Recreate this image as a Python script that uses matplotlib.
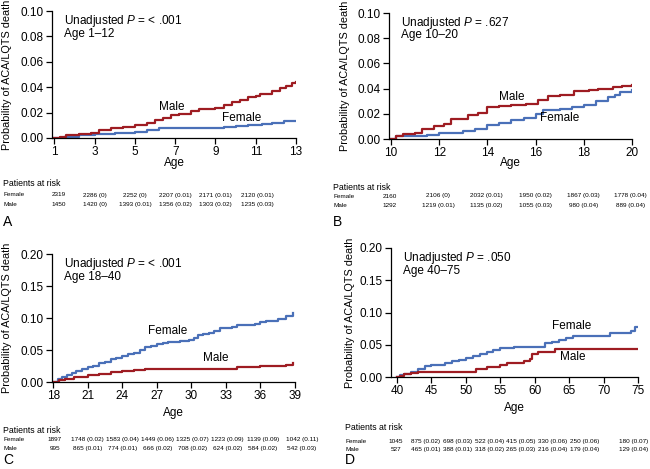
import matplotlib
matplotlib.use('Agg')
import matplotlib.pyplot as plt
import matplotlib.transforms as mtransforms
from matplotlib import font_manager

plt.rcParams['font.family'] = ['Liberation Sans', 'DejaVu Sans']
plt.rcParams['mathtext.fontset'] = 'custom'
plt.rcParams['mathtext.rm'] = 'Liberation Sans'
plt.rcParams['mathtext.it'] = 'Liberation Sans:italic'

RED = '#9e1c22'
BLUE = '#4a70b8'

# Panel A: age 1-12
a_male_x = [1, 1.3, 1.6, 2.2, 2.8, 3.2, 3.8, 4.4, 5.0, 5.6, 6.0, 6.4, 6.8, 7.2, 7.8, 8.2, 9.0, 9.4, 9.8, 10.2, 10.6, 11.0, 11.2, 11.8, 12.2, 12.5, 12.8, 13.0]
a_male_y = [0, 0.001, 0.002, 0.003, 0.004, 0.006, 0.008, 0.009, 0.010, 0.012, 0.014, 0.016, 0.018, 0.019, 0.021, 0.023, 0.024, 0.026, 0.028, 0.030, 0.032, 0.033, 0.035, 0.037, 0.039, 0.041, 0.043, 0.044]
a_female_x = [1, 1.5, 2.2, 3.0, 4.0, 5.0, 5.6, 6.2, 9.0, 9.4, 10.0, 10.6, 11.3, 11.8, 12.4, 13.0]
a_female_y = [0, 0.001, 0.002, 0.003, 0.004, 0.005, 0.006, 0.0075, 0.008, 0.009, 0.0095, 0.010, 0.011, 0.012, 0.013, 0.0135]

# Panel B: age 10-20
b_male_x = [10, 10.2, 10.5, 11.0, 11.3, 11.8, 12.2, 12.5, 13.0, 13.2, 13.6, 14.0, 14.5, 15.0, 15.6, 16.1, 16.5, 17.0, 17.6, 18.2, 18.6, 19.2, 19.6, 20.0]
b_male_y = [0, 0.002, 0.004, 0.005, 0.008, 0.010, 0.012, 0.016, 0.016, 0.019, 0.021, 0.025, 0.026, 0.027, 0.028, 0.031, 0.034, 0.035, 0.038, 0.039, 0.040, 0.041, 0.042, 0.043]
b_female_x = [10, 10.2, 11.0, 11.5, 12.0, 13.0, 13.5, 14.0, 14.5, 15.0, 15.5, 16.0, 16.3, 17.0, 17.5, 18.0, 18.5, 19.0, 19.3, 19.5, 20.0]
b_female_y = [0, 0.002, 0.002, 0.003, 0.005, 0.006, 0.008, 0.011, 0.013, 0.015, 0.017, 0.020, 0.023, 0.024, 0.025, 0.027, 0.030, 0.033, 0.035, 0.037, 0.039]

# Panel C: age 18-40
c_female_x = [18, 18.4, 18.8, 19.2, 19.6, 20.0, 20.5, 21.0, 21.5, 22.0, 22.5, 23.0, 23.5, 24.0, 24.5, 25.0, 25.5, 26.0, 26.5, 27.0, 27.5, 28.0, 29.0, 29.8, 30.2, 30.6, 31.0, 31.5, 32.0, 32.5, 33.5, 34.0, 35.5, 36.0, 36.5, 37.5, 38.2, 38.8]
c_female_y = [0, 0.004, 0.008, 0.011, 0.014, 0.017, 0.020, 0.023, 0.025, 0.029, 0.032, 0.036, 0.038, 0.041, 0.043, 0.046, 0.050, 0.054, 0.057, 0.059, 0.061, 0.063, 0.064, 0.066, 0.069, 0.073, 0.075, 0.077, 0.080, 0.084, 0.086, 0.089, 0.091, 0.093, 0.095, 0.099, 0.103, 0.108]
c_male_x = [18, 18.5, 19.0, 19.8, 21.0, 22.0, 23.0, 24.0, 25.0, 26.0, 33.5, 34.0, 36.0, 38.2, 38.8]
c_male_y = [0, 0.003, 0.005, 0.008, 0.011, 0.013, 0.015, 0.017, 0.019, 0.021, 0.021, 0.024, 0.025, 0.027, 0.029]

# Panel D: age 40-75
d_female_x = [40, 40.5, 41.0, 42.0, 43.0, 44.0, 45.0, 47.0, 48.0, 49.0, 50.0, 51.0, 52.0, 53.0, 54.0, 55.0, 57.0, 61.0, 61.5, 62.5, 63.5, 64.5, 65.5, 71.0, 74.0, 74.5, 75.0]
d_female_y = [0, 0.003, 0.005, 0.008, 0.012, 0.017, 0.019, 0.021, 0.025, 0.027, 0.030, 0.033, 0.035, 0.038, 0.042, 0.045, 0.046, 0.047, 0.052, 0.054, 0.057, 0.060, 0.063, 0.068, 0.072, 0.077, 0.077]
d_male_x = [40, 40.5, 41.0, 42.0, 43.0, 51.0, 51.5, 53.0, 55.0, 56.0, 58.5, 59.3, 59.6, 60.5, 61.0, 63.0, 75.0]
d_male_y = [0, 0.002, 0.004, 0.006, 0.007, 0.008, 0.012, 0.015, 0.019, 0.022, 0.025, 0.028, 0.035, 0.038, 0.039, 0.043, 0.043]

# patients at risk tables
a_risk_female = ['2319', '2286 (0)', '2252 (0)', '2207 (0.01)', '2171 (0.01)', '2120 (0.01)']
a_risk_male = ['1450', '1420 (0)', '1393 (0.01)', '1356 (0.02)', '1303 (0.02)', '1235 (0.03)']
b_risk_female = ['2160', '2106 (0)', '2032 (0.01)', '1950 (0.02)', '1867 (0.03)', '1778 (0.04)']
b_risk_male = ['1292', '1219 (0.01)', '1135 (0.02)', '1055 (0.03)', '980 (0.04)', '889 (0.04)']
c_risk_female = ['1897', '1748 (0.02)', '1583 (0.04)', '1449 (0.06)', '1325 (0.07)', '1223 (0.09)', '1139 (0.09)', '1042 (0.11)']
c_risk_male = ['995', '865 (0.01)', '774 (0.01)', '666 (0.02)', '708 (0.02)', '624 (0.02)', '584 (0.02)', '542 (0.03)']
d_risk_female = ['1045', '875 (0.02)', '698 (0.03)', '522 (0.04)', '415 (0.05)', '330 (0.06)', '250 (0.06)', '180 (0.07)']
d_risk_male = ['527', '465 (0.01)', '388 (0.01)', '318 (0.02)', '265 (0.03)', '216 (0.04)', '179 (0.04)', '129 (0.04)']

a_xticks = [1, 3, 5, 7, 9, 11, 13]
b_xticks = [10, 12, 14, 16, 18, 20]
c_xticks = [18, 21, 24, 27, 30, 33, 36, 39]
d_xticks = [40, 45, 50, 55, 60, 65, 70, 75]
ab_yticks = [0, 0.02, 0.04, 0.06, 0.08, 0.10]
cd_yticks = [0, 0.05, 0.10, 0.15, 0.20]

risk_fp = font_manager.FontProperties(family='Liberation Sans', size=4.6)

W, H = 650, 469
fig = plt.figure(figsize=(6.5, 4.69), dpi=100)


def fx(px):
    return px / W


def fy(py):
    return 1 - py / H


panels = [
    dict(rect=(52, 296, 11, 138), xlim=(0.88, 13), xticks=a_xticks, yticks=ab_yticks, ylim=(0, 0.10),
         male=(a_male_x, a_male_y), female=(a_female_x, a_female_y),
         p='< .001', ages='Age 1\u201312', male_lab=(6.85, 0.0244), female_lab=(10.3, 0.0157),
         risk_cols=[1.2, 3, 5, 7, 9, 11.1], risk_f=a_risk_female, risk_m=a_risk_male,
         ylab_x=7, age_y=163, row_x=3, rows_y=(184, 195, 204), letter='A', letter_y=222),
    dict(rect=(389, 632, 13, 139), xlim=(9.92, 20), xticks=b_xticks, yticks=ab_yticks, ylim=(0, 0.10),
         male=(b_male_x, b_male_y), female=(b_female_x, b_female_y),
         p='.627', ages='Age 10\u201320', male_lab=(15.0, 0.033), female_lab=(17.0, 0.0167),
         risk_cols=[9.95, 11.95, 13.95, 16, 18, 19.95], risk_f=b_risk_female, risk_m=b_risk_male,
         ylab_x=345, age_y=163, row_x=333, rows_y=(187, 196, 205), letter='B', letter_y=222),
    dict(rect=(52, 295, 254, 382), xlim=(17.9, 39), xticks=c_xticks, yticks=cd_yticks, ylim=(0, 0.20),
         male=(c_male_x, c_male_y), female=(c_female_x, c_female_y),
         p='< .001', ages='Age 18\u201340', male_lab=(32.1, 0.0375), female_lab=(27.9, 0.080),
         risk_cols=[18.15, 21, 24, 27.05, 30.1, 33.15, 36.2, 39.6], risk_f=c_risk_female, risk_m=c_risk_male,
         ylab_x=7, age_y=413, row_x=3, rows_y=(430, 439, 448), letter='C', letter_y=460),
    dict(rect=(391, 638, 248, 377), xlim=(39.13, 75), xticks=d_xticks, yticks=cd_yticks, ylim=(0, 0.20),
         male=(d_male_x, d_male_y), female=(d_female_x, d_female_y),
         p='.050', ages='Age 40\u201375', male_lab=(65.5, 0.031), female_lab=(65.4, 0.079),
         risk_cols=[39.8, 44.2, 48.8, 53.4, 58.0, 62.6, 67.2, 74.3], risk_f=d_risk_female, risk_m=d_risk_male,
         ylab_x=350, age_y=408, row_x=345, rows_y=(427, 441, 449), letter='D', letter_y=460),
]

risk_texts = []
for pn in panels:
    l, r, t, b = pn['rect']
    ax = fig.add_axes([fx(l), fy(b), fx(r - l), fy(t) - fy(b)])
    ax.step(*pn['female'], where='post', color=BLUE, lw=1.6)
    ax.step(*pn['male'], where='post', color=RED, lw=1.6)
    ax.set_xlim(*pn['xlim'])
    ax.set_ylim(*pn['ylim'])
    ax.set_xticks(pn['xticks'])
    ax.set_yticks(pn['yticks'])
    ax.set_yticklabels(['%.2f' % v for v in pn['yticks']])
    ax.spines['top'].set_visible(False)
    ax.spines['right'].set_visible(False)
    ax.spines['left'].set_linewidth(0.9)
    ax.spines['bottom'].set_linewidth(0.9)
    ax.tick_params(direction='out', length=4, width=0.9, labelsize=8.5, pad=2)
    ax.patch.set_alpha(0)

    ax.text(0.05, 0.985, 'Unadjusted $\\it{P}$ = ' + pn['p'], transform=ax.transAxes,
            fontsize=8.5, va='top', ha='left')
    ax.text(0.05, 0.87, pn['ages'], transform=ax.transAxes, fontsize=8.5, va='top', ha='left')
    ax.text(*pn['male_lab'], 'Male', fontsize=8.5, ha='center', va='center')
    ax.text(*pn['female_lab'], 'Female', fontsize=8.5, ha='center', va='center')

    fig.text(fx(pn['ylab_x']), (fy(t) + fy(b)) / 2, 'Probability of ACA/LQTS death',
             rotation=90, ha='center', va='center', fontsize=7.8)
    fig.text(fx((l + r) / 2), fy(pn['age_y']), 'Age', ha='center', va='center', fontsize=8.5)

    # risk table
    trans = mtransforms.blended_transform_factory(ax.transData, fig.transFigure)
    y0, y1, y2 = pn['rows_y']
    fig.text(fx(pn['row_x']), fy(y0), 'Patients at risk', ha='left', va='center', fontsize=6.3)
    fig.text(fx(pn['row_x']), fy(y1), 'Female', ha='left', va='center', fontproperties=risk_fp)
    fig.text(fx(pn['row_x']), fy(y2), 'Male', ha='left', va='center', fontproperties=risk_fp)
    for xc, sf, sm in zip(pn['risk_cols'], pn['risk_f'], pn['risk_m']):
        for yy, s in ((y1, sf), (y2, sm)):
            tx = ax.text(xc, fy(yy), s, transform=trans, ha='center', va='center',
                         fontproperties=risk_fp, clip_on=False)
            risk_texts.append(tx)
    fig.text(fx(pn['row_x']), fy(pn['letter_y']), pn['letter'], ha='left', va='center', fontsize=10)

# keep right-most risk numbers inside the figure
fig.canvas.draw()
renderer = fig.canvas.get_renderer()
for tx in risk_texts:
    bb = tx.get_window_extent(renderer)
    if bb.x1 > W - 1:
        tx.set_horizontalalignment('right')
        tx.set_transform(fig.transFigure)
        tx.set_position((1 - 1.0 / W, tx.get_position()[1]))

fig.savefig('out.png', dpi=100)
